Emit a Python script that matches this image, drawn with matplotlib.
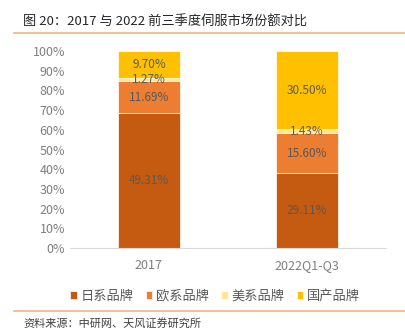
import numpy as np
import matplotlib
matplotlib.use('Agg')
import matplotlib.pyplot as plt

plt.rcParams['font.family'] = ['Noto Sans CJK SC', 'DejaVu Sans']

# Data
periods = ['2017', '2022Q1-Q3']
brands = ['日系品牌', '欧系品牌', '美系品牌', '国产品牌']
japan = [49.31, 29.11]
europe = [11.69, 15.60]
usa = [1.27, 1.43]
domestic = [9.70, 30.50]
colors = ['#C55A11', '#ED7D31', '#FFE699', '#FFC000']

series = np.array([japan, europe, usa, domestic])
shares = series / series.sum(axis=0)

fig = plt.figure(figsize=(4.06, 3.36), dpi=100)
ax = fig.add_axes([0.172, 0.262, 0.779, 0.586])

x = np.arange(len(periods))
bottom = np.zeros(len(periods))
for i, name in enumerate(brands):
    bars = ax.bar(x, shares[i], 0.39, bottom=bottom, color=colors[i],
                  label=name, edgecolor='white', linewidth=0.5)
    for j, b in enumerate(bars):
        ax.text(b.get_x() + b.get_width() / 2, bottom[j] + shares[i][j] / 2,
                f'{series[i][j]:.2f}%', ha='center', va='center',
                fontsize=8.5, color='#595959')
    bottom += shares[i]

ax.set_xlim(-0.5, 1.5)
ax.set_ylim(0, 1)
ax.set_yticks(np.arange(0, 1.01, 0.1))
ax.set_yticklabels([f'{int(v)}%' for v in np.arange(0, 101, 10)])
ax.set_xticks(x)
ax.set_xticklabels(periods)
ax.tick_params(length=0, colors='#7F7F7F', labelsize=9)
ax.tick_params(axis='x', pad=8)
for s in ['top', 'right', 'left']:
    ax.spines[s].set_visible(False)
ax.spines['bottom'].set_color('#D9D9D9')

ax.legend(loc='center', bbox_to_anchor=(0.46, -0.245), ncol=4, frameon=False,
          fontsize=9.5, handlelength=0.5, handleheight=0.5, handletextpad=0.3,
          columnspacing=0.9, labelcolor='#595959')

fig.text(0.057, 0.935, '图 20：2017 与 2022 前三季度伺服市场份额对比', fontsize=9.5,
         color='#262626', va='center', fontweight='medium')
fig.add_artist(plt.Line2D([0.034, 1.0], [0.902, 0.902], color='#F4B183', lw=1.2))
fig.add_artist(plt.Line2D([0.034, 1.0], [0.074, 0.074], color='#F4B183', lw=1.2))
fig.text(0.057, 0.038, '资料来源：中研网、天风证券研究所', fontsize=8,
         color='#404040', va='center')

fig.savefig('out.png', dpi=100)
